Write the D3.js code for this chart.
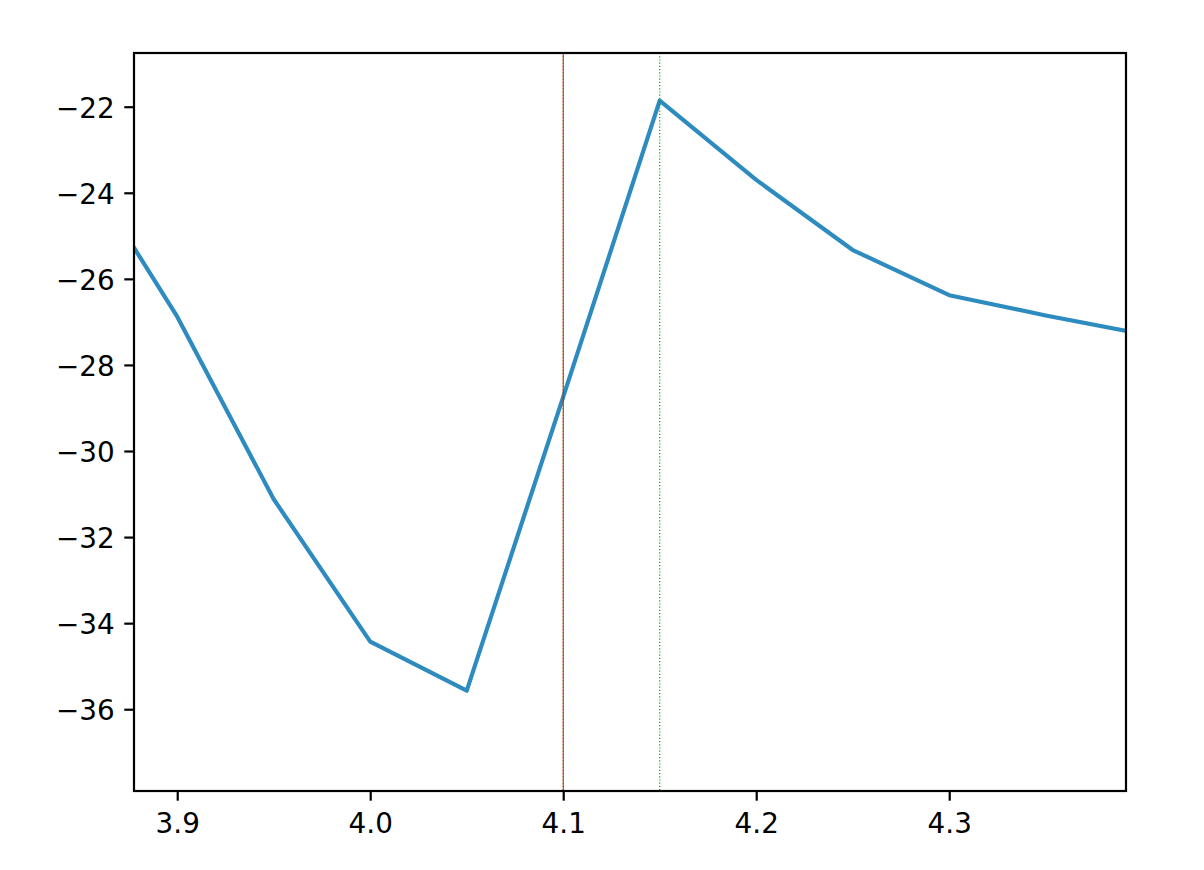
<!DOCTYPE html>
<html>
<head>
<meta charset="utf-8">
<script src="https://cdn.jsdelivr.net/npm/d3@7"></script>
<style>
  body { margin: 0; background: #fff; }
  svg { display: block; }
  .tick text { font-family: 'DejaVu Sans', sans-serif; font-size: 27.8px; fill: #000; }
</style>
</head>
<body>
<svg id="chart" width="1204" height="870"></svg>
<script>
// values
const xValues = [3.85, 3.9, 3.95, 4.0, 4.05, 4.1, 4.15, 4.2, 4.25, 4.3, 4.35, 4.4];
const yValues = [-23.3, -26.88, -31.12, -34.43, -35.57, -28.74, -21.86, -23.70, -25.33, -26.38, -26.85, -27.28];
const xTicks = [3.9, 4.0, 4.1, 4.2, 4.3];
const yTicks = [-36, -34, -32, -30, -28, -26, -24, -22];
const redLines = [4.1];
const greenLines = [4.1, 4.15];

const margin = { top: 53, right: 78, bottom: 79, left: 134 };
const w = 1204;
const h = 870;
const width = w - margin.left - margin.right;
const height = h - margin.top - margin.bottom;

const svg = d3.select('#chart');
svg.append('rect').attr('width', w).attr('height', h).attr('fill', '#fff');

const x = d3.scaleLinear().domain([3.8776, 4.3916]).range([0, width]);
const y = d3.scaleLinear().domain([-37.90, -20.752]).range([height, 0]);

const g = svg.append('g').attr('transform', `translate(${margin.left},${margin.top})`);

g.append('clipPath').attr('id', 'clip')
  .append('rect').attr('width', width).attr('height', height);

const data = xValues.map((v, i) => ({ x: v, y: yValues[i] }));

const line = d3.line().x(d => x(d.x)).y(d => y(d.y));

g.append('path')
  .datum(data)
  .attr('clip-path', 'url(#clip)')
  .attr('d', line)
  .attr('fill', 'none')
  .attr('stroke', '#2E8BC0')
  .attr('stroke-width', 4.17)
  .attr('stroke-linejoin', 'round');

g.selectAll('.vline-red')
  .data(redLines)
  .enter()
  .append('line')
  .attr('class', 'vline-red')
  .attr('x1', d => x(d)).attr('x2', d => x(d))
  .attr('y1', 0).attr('y2', height)
  .attr('stroke', '#ff0000')
  .attr('stroke-width', 1);

g.selectAll('.vline-green')
  .data(greenLines)
  .enter()
  .append('line')
  .attr('class', 'vline-green')
  .attr('x1', d => x(d)).attr('x2', d => x(d))
  .attr('y1', 0).attr('y2', height)
  .attr('stroke', '#00a000')
  .attr('stroke-width', 1.2)
  .attr('stroke-dasharray', '1.2,2');

// axes
const axisX = d3.axisBottom(x).tickValues(xTicks).tickFormat(d3.format('.1f'))
  .tickSize(9.7).tickPadding(6);
const axisY = d3.axisLeft(y).tickValues(yTicks).tickFormat(d3.format('d'))
  .tickSize(9.7).tickPadding(9.7);

const gx = g.append('g').attr('transform', `translate(0,${height})`).call(axisX);
const gy = g.append('g').call(axisY);

[gx, gy].forEach(a => {
  a.select('.domain').remove();
  a.selectAll('.tick line').attr('stroke', '#000').attr('stroke-width', 2.2);
});

gx.selectAll('.tick text').attr('dy', null).attr('y', 42.3);
gy.selectAll('.tick text').attr('dy', null).attr('y', 10.3);

g.append('rect')
  .attr('width', width)
  .attr('height', height)
  .attr('fill', 'none')
  .attr('stroke', '#000')
  .attr('stroke-width', 2.2);
</script>
</body>
</html>
